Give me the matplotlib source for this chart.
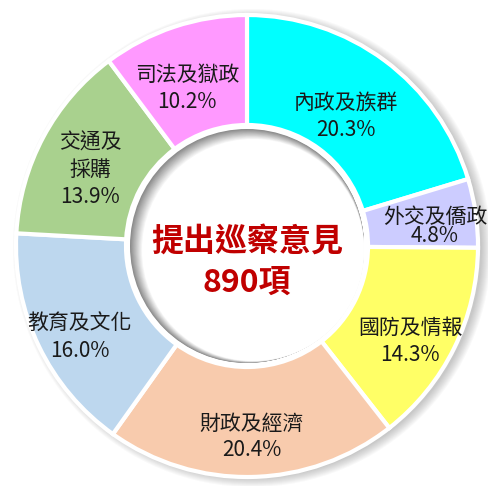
import matplotlib
matplotlib.use("Agg")
import matplotlib.pyplot as plt
from matplotlib.patches import Circle
import numpy as np

plt.rcParams['font.family'] = ['Noto Sans CJK TC', 'DejaVu Sans']

# data, clockwise from 12 o'clock
categories = ["內政及族群", "外交及僑政", "國防及情報", "財政及經濟", "教育及文化", "交通及\n採購", "司法及獄政"]
shares = [20.3, 4.8, 14.3, 20.4, 16.0, 13.9, 10.2]
colors = ["#00FFFF", "#CCCCFF", "#FFFF66", "#F8CBAD", "#BDD7EE", "#A9D18E", "#FF99FF"]
center_title = "提出巡察意見"
center_total = "890項"

W, H = 489, 486
cx, cy = 247, H - 246
R_out, R_in = 231, 121

fig = plt.figure(figsize=(W / 100, H / 100), dpi=100)
ax = fig.add_axes([0, 0, 1, 1])

# soft drop shadow behind the ring (to the right)
for k in range(10):
    ax.add_patch(Circle((cx + 5, cy - 2), R_out + 8 - k, color="0.4", alpha=0.04, lw=0, zorder=0))

wedges, _ = ax.pie(shares, colors=colors, startangle=90, counterclock=False,
                   center=(cx, cy), radius=R_out, frame=True,
                   wedgeprops=dict(width=R_out - R_in, edgecolor="white", linewidth=3))
for w in wedges:
    w.set_zorder(2)
ax.set_xlim(0, W)
ax.set_ylim(0, H)
ax.set_aspect("equal")
ax.axis("off")

# white border circle + shaded hole
ax.add_patch(Circle((cx, cy), R_in, color="white", lw=0, zorder=3))
n = 14
for i in range(n):
    t = i / (n - 1)
    g = 0.55 + 0.45 * t
    ax.add_patch(Circle((cx + 6 * t, cy - 4 * t), (R_in - 4) - 6 * t, color=(g, g, g),
                        lw=0, zorder=4))
ax.add_patch(Circle((cx + 8, cy - 5), R_in - 12, color="white", lw=0, zorder=5))

# labels at mid angle of each wedge
bounds = np.cumsum([0] + shares)
tweak = {0: (-5, -11, 175), 1: (0, -8, 190), 2: (6, -18, 175), 3: (0, -16, 175),
         4: (-10, -15, 175), 5: (-2, -6, 175), 6: (-4, -8, 175)}
for i, (cat, s) in enumerate(zip(categories, shares)):
    mid = 90 - 3.6 * (bounds[i] + bounds[i + 1]) / 2
    dx, dy, r = tweak[i]
    x = cx + r * np.cos(np.radians(mid)) + dx
    y = cy + r * np.sin(np.radians(mid)) + dy
    ls = 0.85 if i == 1 else 1.3
    ax.text(x, y, f"{cat}\n{s:.1f}%", ha="center", va="center", fontsize=15,
            linespacing=ls, color="#1a1a1a", fontweight="light", zorder=6)

ax.text(cx, cy + 4, center_title, ha="center", va="center", fontsize=23,
        fontweight="bold", color="#C00000", zorder=6)
ax.text(cx, cy - 37, center_total, ha="center", va="center", fontsize=23,
        fontweight="bold", color="#C00000", zorder=6)

fig.savefig("out.png", dpi=100)
